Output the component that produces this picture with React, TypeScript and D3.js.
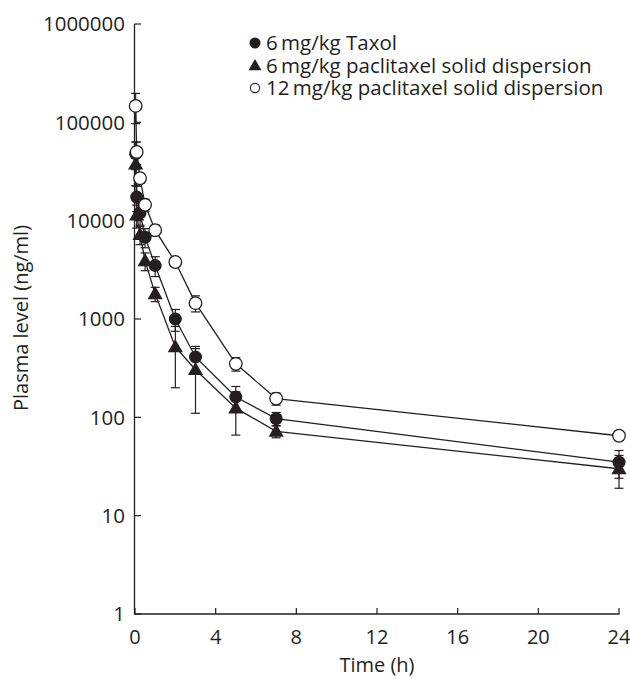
import React from 'react';
import * as d3 from 'd3';

const times = [0.033, 0.083, 0.25, 0.5, 1, 2, 3, 5, 7, 24];

// 6 mg/kg Taxol
const taxolMean = [48000, 17400, 12000, 6800, 3500, 1000, 411, 161, 97, 35];
const taxolSd = [15000, 5000, 3000, 1500, 800, 250, 115, 45, 15, 11];

// 6 mg/kg paclitaxel solid dispersion
const sd6Mean = [37700, 11400, 7200, 3900, 1800, 520, 305, 124, 72, 30];
const sd6Sd = [15000, 3000, 1500, 800, 300, 320, 195, 58, 10, 11];

// 12 mg/kg paclitaxel solid dispersion
const sd12Mean = [147000, 50000, 27000, 14500, 8000, 3800, 1450, 350, 155, 65];
const sd12Sd = [50000, 13000, 3000, 2000, 1000, 400, 270, 55, 22, 5];

const xTicks = [0, 4, 8, 12, 16, 20, 24];
const yTicks = [1, 10, 100, 1000, 10000, 100000, 1000000];

const legendLabels = [
  '6\u2009mg/kg Taxol',
  '6\u2009mg/kg paclitaxel solid dispersion',
  '12\u2009mg/kg paclitaxel solid dispersion',
];

const W = 630, H = 679;
const FONT = '"Open Sans", "Noto Sans", sans-serif';
const INK = '#231f20';

const App = () => {
  const x = d3.scaleLinear().domain([0, 24]).range([135, 619]);
  const y = d3.scaleLog().domain([1, 1000000]).range([614, 24]);

  const series = [
    { mean: taxolMean, sd: taxolSd, kind: 'filled' },
    { mean: sd6Mean, sd: sd6Sd, kind: 'triangle' },
    { mean: sd12Mean, sd: sd12Sd, kind: 'open' },
  ];

  const line = d3.line<number>()
    .x((_, i) => x(times[i]))
    .y(d => y(d));

  const tri = d3.symbol().type(d3.symbolTriangle).size(100);

  const marker = (kind: string, cx: number, cy: number, key: string, scale = 1) => {
    if (kind === 'filled') return <circle key={key} cx={cx} cy={cy} r={6.5 * scale} fill={INK} />;
    if (kind === 'open') return <circle key={key} cx={cx} cy={cy} r={6.3 * scale} fill="#fff" stroke={INK} strokeWidth={1.3} />;
    return <path key={key} d={tri() as string} transform={`translate(${cx},${cy + 1}) scale(${scale})`} fill={INK} />;
  };

  return (
    <svg width={W} height={H} style={{ position: 'absolute', left: 0, top: 0 }} fontFamily={FONT}>
      <rect width={W} height={H} fill="#fff" />

      {/* axes */}
      <line x1={134.5} x2={134.5} y1={y(1000000)} y2={y(1)} stroke={INK} strokeWidth={1.3} />
      <line x1={134} x2={619.5} y1={614} y2={614} stroke={INK} strokeWidth={1.3} />
      {yTicks.map(t => (
        <g key={'y' + t}>
          <line x1={134.5} x2={141} y1={y(t)} y2={y(t)} stroke={INK} strokeWidth={1.2} />
          <text x={125} y={y(t)} dy="0.36em" textAnchor="end" fontSize={20.5} fill={INK}>{t}</text>
        </g>
      ))}
      {xTicks.map(t => (
        <g key={'x' + t}>
          <line x1={x(t)} x2={x(t)} y1={614} y2={608} stroke={INK} strokeWidth={1.2} />
          <text x={x(t)} y={644} textAnchor="middle" fontSize={20} fill={INK}>{t}</text>
        </g>
      ))}
      <text x={377} y={672} textAnchor="middle" fontSize={20} fill={INK}>Time (h)</text>
      <text transform="translate(28,318) rotate(-90)" textAnchor="middle" fontSize={20} fill={INK}>Plasma level (ng/ml)</text>

      {/* lines and error bars */}
      {series.map((s, si) => (
        <g key={'s' + si}>
          <path d={line(s.mean) as string} fill="none" stroke={INK} strokeWidth={1.3} />
          {s.mean.map((m, i) => {
            const lo = Math.max(m - s.sd[i], 1);
            const hi = m + s.sd[i];
            const cx = x(times[i]);
            return (
              <g key={i} stroke={INK} strokeWidth={1.2}>
                <line x1={cx} x2={cx} y1={y(lo)} y2={y(hi)} />
                <line x1={cx - 4.5} x2={cx + 4.5} y1={y(lo)} y2={y(lo)} />
                <line x1={cx - 4.5} x2={cx + 4.5} y1={y(hi)} y2={y(hi)} />
              </g>
            );
          })}
        </g>
      ))}

      {/* markers */}
      {series.map((s, si) => (
        <g key={'m' + si}>
          {s.mean.map((m, i) => marker(s.kind, x(times[i]), y(m), si + '-' + i))}
        </g>
      ))}

      {/* legend */}
      {legendLabels.map((lab, i) => {
        const ly = 43 + i * 22.5;
        const kind = series[i].kind;
        return (
          <g key={'l' + i}>
            {kind === 'open'
              ? <circle cx={255} cy={ly} r={4.6} fill="#fff" stroke={INK} strokeWidth={1.1} />
              : marker(kind, 255, ly, 'lm' + i, 0.85)}
            <text x={266} y={ly} dy="0.36em" fontSize={20.5} fill={INK}>{lab}</text>
          </g>
        );
      })}
    </svg>
  );
};

export default App;
